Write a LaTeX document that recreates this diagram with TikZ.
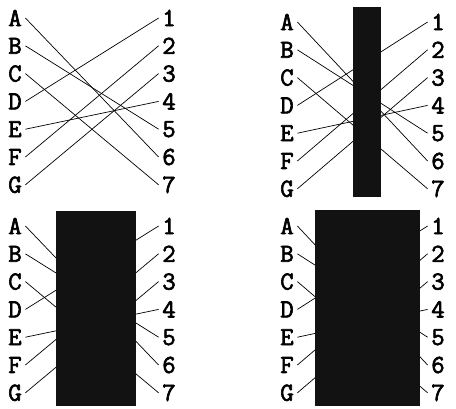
\documentclass[tikz,border=0pt]{standalone}
\usepackage{fontspec}
\newfontfamily\pinfont{Latin Modern Mono}[FakeBold=2.5]
\usetikzlibrary{positioning}

% one panel: name, letter x, number x, top y
\newcommand{\wirepanel}[4]{%
  \foreach \l [count=\i] in {A,B,C,D,E,F,G}
    \node[termlabel] (#1\l) at (#2,{#4+27.8*(\i-1)}) {\l};
  \foreach \i in {1,...,7}
    \node[termlabel] (#1n\i) at (#3,{#4+27.8*(\i-1)}) {\i};
  \foreach \l/\n in {A/6,B/5,C/7,D/1,E/4,F/2,G/3}
    \draw[wire] (#1\l.east) -- (#1n\n.west);
}

\begin{document}
\begin{tikzpicture}[x=1pt,y=-1pt,
  every node/.style={font=\pinfont\fontsize{26}{26}\selectfont},
  termlabel/.style={inner xsep=3.5pt, inner ysep=1pt},
  wire/.style={draw=black, line width=0.7pt},
  shield/.style={fill=black!93, draw=none}]
\useasboundingbox (0,0) rectangle (456,408);
% top left: open wires
\wirepanel{a}{15}{169}{18}
% top right: narrow bar
\wirepanel{b}{287}{438}{22}
\fill[shield] (353,7) rectangle (381,197);
% bottom left: wide bar
\wirepanel{c}{15}{169}{226}
\fill[shield] (56,211) rectangle (136,406);
% bottom right: wider bar
\wirepanel{d}{287}{438}{226}
\fill[shield] (315,210) rectangle (420,406);
\end{tikzpicture}
\end{document}
